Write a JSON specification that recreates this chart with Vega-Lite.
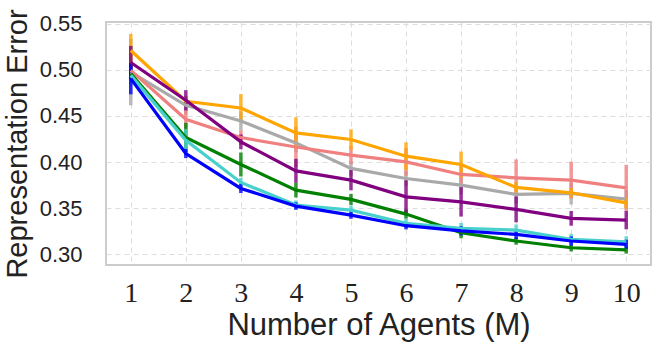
{
  "$schema": "https://vega.github.io/schema/vega-lite/v6.json",
  "width": 545,
  "height": 243,
  "autosize": {"type": "none"},
  "padding": {"left": 106, "top": 22, "right": 7, "bottom": 98},
  "background": "white",
  "config": {
    "view": {"stroke": "#cccccc", "strokeWidth": 2},
    "axis": {
      "grid": true,
      "gridColor": "#dddddd",
      "gridDash": [5, 4],
      "gridWidth": 1,
      "domain": false,
      "ticks": false,
      "labelColor": "#222222",
      "titleColor": "#222222",
      "titleFontWeight": "normal"
    }
  },
  "data": {
    "values": [
      {"s": "gray", "M": 1, "v": 0.4976, "e": 0.036},
      {"s": "gray", "M": 2, "v": 0.4616, "e": 0.01},
      {"s": "gray", "M": 3, "v": 0.4446, "e": 0.01},
      {"s": "gray", "M": 4, "v": 0.4208, "e": 0.01},
      {"s": "gray", "M": 5, "v": 0.3931, "e": 0.008},
      {"s": "gray", "M": 6, "v": 0.3822, "e": 0.008},
      {"s": "gray", "M": 7, "v": 0.375, "e": 0.01},
      {"s": "gray", "M": 8, "v": 0.3649, "e": 0.01},
      {"s": "gray", "M": 9, "v": 0.366, "e": 0.012},
      {"s": "gray", "M": 10, "v": 0.3598, "e": 0.01},
      {"s": "pink", "M": 1, "v": 0.4995, "e": 0.01},
      {"s": "pink", "M": 2, "v": 0.4464, "e": 0.01},
      {"s": "pink", "M": 3, "v": 0.4266, "e": 0.008},
      {"s": "pink", "M": 4, "v": 0.4164, "e": 0.022},
      {"s": "pink", "M": 5, "v": 0.4075, "e": 0.01},
      {"s": "pink", "M": 6, "v": 0.4002, "e": 0.015},
      {"s": "pink", "M": 7, "v": 0.3866, "e": 0.01},
      {"s": "pink", "M": 8, "v": 0.3829, "e": 0.02},
      {"s": "pink", "M": 9, "v": 0.3804, "e": 0.02},
      {"s": "pink", "M": 10, "v": 0.3721, "e": 0.025},
      {"s": "orange", "M": 1, "v": 0.521, "e": 0.018},
      {"s": "orange", "M": 2, "v": 0.466, "e": 0.005},
      {"s": "orange", "M": 3, "v": 0.4587, "e": 0.015},
      {"s": "orange", "M": 4, "v": 0.4316, "e": 0.017},
      {"s": "orange", "M": 5, "v": 0.4245, "e": 0.011},
      {"s": "orange", "M": 6, "v": 0.4064, "e": 0.015},
      {"s": "orange", "M": 7, "v": 0.3974, "e": 0.014},
      {"s": "orange", "M": 8, "v": 0.3725, "e": 0.006},
      {"s": "orange", "M": 9, "v": 0.3667, "e": 0.005},
      {"s": "orange", "M": 10, "v": 0.3558, "e": 0.006},
      {"s": "green", "M": 1, "v": 0.496, "e": 0.01},
      {"s": "green", "M": 2, "v": 0.4266, "e": 0.016},
      {"s": "green", "M": 3, "v": 0.3974, "e": 0.013},
      {"s": "green", "M": 4, "v": 0.3696, "e": 0.008},
      {"s": "green", "M": 5, "v": 0.3595, "e": 0.006},
      {"s": "green", "M": 6, "v": 0.3436, "e": 0.005},
      {"s": "green", "M": 7, "v": 0.3234, "e": 0.006},
      {"s": "green", "M": 8, "v": 0.3144, "e": 0.004},
      {"s": "green", "M": 9, "v": 0.3071, "e": 0.004},
      {"s": "green", "M": 10, "v": 0.3047, "e": 0.004},
      {"s": "cyan", "M": 1, "v": 0.494, "e": 0.01},
      {"s": "cyan", "M": 2, "v": 0.4237, "e": 0.012},
      {"s": "cyan", "M": 3, "v": 0.3779, "e": 0.005},
      {"s": "cyan", "M": 4, "v": 0.3534, "e": 0.005},
      {"s": "cyan", "M": 5, "v": 0.3479, "e": 0.005},
      {"s": "cyan", "M": 6, "v": 0.3335, "e": 0.005},
      {"s": "cyan", "M": 7, "v": 0.3281, "e": 0.006},
      {"s": "cyan", "M": 8, "v": 0.3263, "e": 0.006},
      {"s": "cyan", "M": 9, "v": 0.3162, "e": 0.006},
      {"s": "cyan", "M": 10, "v": 0.3136, "e": 0.006},
      {"s": "purple", "M": 1, "v": 0.508, "e": 0.018},
      {"s": "purple", "M": 2, "v": 0.467, "e": 0.011},
      {"s": "purple", "M": 3, "v": 0.4219, "e": 0.008},
      {"s": "purple", "M": 4, "v": 0.3905, "e": 0.013},
      {"s": "purple", "M": 5, "v": 0.3804, "e": 0.011},
      {"s": "purple", "M": 6, "v": 0.3623, "e": 0.018},
      {"s": "purple", "M": 7, "v": 0.3569, "e": 0.016},
      {"s": "purple", "M": 8, "v": 0.3487, "e": 0.014},
      {"s": "purple", "M": 9, "v": 0.339, "e": 0.008},
      {"s": "purple", "M": 10, "v": 0.3371, "e": 0.01},
      {"s": "blue", "M": 1, "v": 0.4905, "e": 0.017},
      {"s": "blue", "M": 2, "v": 0.4093, "e": 0.005},
      {"s": "blue", "M": 3, "v": 0.3714, "e": 0.005},
      {"s": "blue", "M": 4, "v": 0.3523, "e": 0.004},
      {"s": "blue", "M": 5, "v": 0.3425, "e": 0.004},
      {"s": "blue", "M": 6, "v": 0.331, "e": 0.004},
      {"s": "blue", "M": 7, "v": 0.3255, "e": 0.005},
      {"s": "blue", "M": 8, "v": 0.3216, "e": 0.005},
      {"s": "blue", "M": 9, "v": 0.3144, "e": 0.005},
      {"s": "blue", "M": 10, "v": 0.3108, "e": 0.005}
    ]
  },
  "encoding": {
    "x": {
      "field": "M",
      "type": "quantitative",
      "scale": {"domain": [0.55, 10.45], "nice": false, "zero": false},
      "axis": {
        "values": [1, 2, 3, 4, 5, 6, 7, 8, 9, 10],
        "format": "d",
        "title": "Number of Agents (M)",
        "labelFont": "Liberation Serif",
        "labelFontSize": 28,
        "labelPadding": 14,
        "labelFlush": false,
        "titleFont": "Liberation Sans",
        "titleFontSize": 31,
        "titlePadding": 3
      }
    },
    "y": {
      "field": "v",
      "type": "quantitative",
      "scale": {"domain": [0.2884, 0.5519], "nice": false, "zero": false},
      "axis": {
        "values": [0.3, 0.35, 0.4, 0.45, 0.5, 0.55],
        "format": ".2f",
        "title": "Representation Error",
        "labelFont": "Liberation Sans",
        "labelFontSize": 22,
        "labelPadding": 24,
        "labelFlush": false,
        "titleFont": "Liberation Sans",
        "titleFontSize": 29,
        "titlePadding": 7
      }
    },
    "color": {
      "field": "s",
      "type": "nominal",
      "scale": {
        "domain": ["gray", "pink", "orange", "green", "cyan", "purple", "blue"],
        "range": ["#A9A9A9", "#F08080", "#FFA500", "#008000", "#48D1CC", "#800080", "#0000FF"]
      },
      "legend": null
    }
  },
  "layer": [
    {
      "mark": {"type": "errorbar", "ticks": false, "rule": {"strokeWidth": 3.5, "opacity": 0.8}},
      "encoding": {"yError": {"field": "e"}}
    },
    {
      "mark": {"type": "line", "strokeWidth": 3.2, "clip": true}
    }
  ]
}
